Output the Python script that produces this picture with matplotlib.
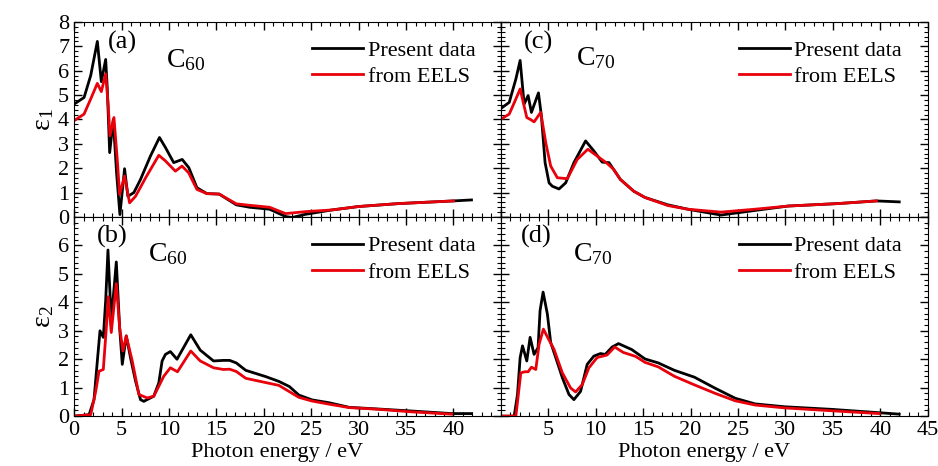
import numpy as np
import matplotlib.pyplot as plt
from matplotlib.ticker import MultipleLocator

plt.rcParams['font.family'] = ['Liberation Serif', 'DejaVu Serif']
plt.rcParams['mathtext.fontset'] = 'stix'

# (a) eps1, C60
a_x_pd = [0, 1.05, 1.75, 2.45, 2.87, 3.33, 3.5, 3.75, 4.13, 4.48, 4.83, 5.32, 5.67, 6.3, 7.0, 8.05, 9.0, 9.63, 10.5, 11.4, 12.1, 12.95, 14.0, 15.3, 17.1, 18.5, 20.6, 22.3, 23.0, 24.4, 27.2, 30, 34.2, 40, 41.9]
a_y_pd = [4.63, 4.9, 5.8, 7.2, 5.55, 6.46, 5.25, 2.64, 4.0, 1.8, 0.1, 1.98, 0.85, 1.0, 1.54, 2.5, 3.26, 2.85, 2.23, 2.36, 2.02, 1.2, 0.96, 0.94, 0.5, 0.4, 0.32, 0.02, -0.02, 0.11, 0.29, 0.43, 0.55, 0.66, 0.7]
a_x_ee = [0, 1.05, 1.75, 2.45, 2.87, 3.33, 3.6, 3.78, 4.2, 4.55, 4.8, 5.32, 5.85, 6.48, 7.53, 8.93, 9.63, 10.68, 11.38, 12.08, 12.95, 14.0, 15.3, 17.1, 18.5, 20.6, 22.3, 24.4, 27.2, 30, 34.2, 40]
a_y_ee = [3.95, 4.22, 4.84, 5.48, 5.14, 5.87, 4.56, 3.33, 4.08, 2.36, 0.92, 1.68, 0.58, 0.85, 1.6, 2.53, 2.3, 1.88, 2.09, 1.81, 1.13, 0.96, 0.94, 0.54, 0.48, 0.4, 0.14, 0.22, 0.29, 0.43, 0.55, 0.66]

# (b) eps2, C60
b_x_pd = [0, 1.58, 2.1, 2.45, 2.73, 3.08, 3.33, 3.57, 3.92, 4.45, 4.8, 5.08, 5.5, 5.95, 6.48, 7.0, 7.35, 8.4, 8.93, 9.28, 9.63, 10.15, 10.85, 12.3, 13.3, 14.7, 15.75, 16.4, 17.1, 18.1, 20.2, 21.6, 22.7, 23.7, 25.1, 26.9, 29, 32.1, 35.6, 39.8, 41.9]
b_y_pd = [0, 0.05, 0.58, 1.94, 3.0, 2.77, 4.07, 5.84, 3.36, 5.42, 3.12, 1.82, 2.82, 2.05, 1.23, 0.58, 0.52, 0.7, 1.17, 1.94, 2.17, 2.27, 2.0, 2.86, 2.32, 1.94, 1.96, 1.96, 1.87, 1.61, 1.39, 1.22, 1.04, 0.74, 0.57, 0.47, 0.31, 0.25, 0.18, 0.09, 0.09]
b_x_ee = [0, 1.75, 2.28, 2.63, 3.08, 3.4, 3.6, 3.92, 4.45, 4.8, 5.15, 5.5, 6.13, 6.83, 7.7, 8.4, 8.93, 9.45, 10.15, 10.9, 12.3, 13.3, 14.7, 15.75, 16.4, 17.1, 18.1, 20.2, 21.6, 23.7, 25.1, 26.9, 29, 32.1, 35.6, 39.8]
b_y_ee = [0, 0.05, 0.87, 1.58, 1.64, 3.12, 4.2, 2.94, 4.66, 3.12, 2.29, 2.82, 1.94, 0.76, 0.64, 0.7, 1.05, 1.4, 1.7, 1.56, 2.29, 1.94, 1.7, 1.64, 1.65, 1.57, 1.33, 1.18, 1.08, 0.66, 0.53, 0.42, 0.3, 0.24, 0.15, 0.07]

# (c) eps1, C70
c_x_pd = [0, 0.88, 1.58, 2.03, 2.45, 2.87, 3.22, 3.96, 4.27, 4.66, 5.08, 5.43, 6.13, 6.83, 7.7, 8.93, 9.8, 10.68, 11.4, 12.6, 14.0, 15.2, 17.6, 19.7, 23.2, 26.8, 30.3, 35.5, 39.6, 42]
c_y_pd = [4.45, 4.7, 5.66, 6.42, 4.63, 4.98, 4.29, 5.09, 4.15, 2.23, 1.4, 1.26, 1.15, 1.4, 2.23, 3.12, 2.71, 2.25, 2.23, 1.54, 1.06, 0.8, 0.5, 0.32, 0.08, 0.27, 0.45, 0.55, 0.66, 0.62]
c_x_ee = [0, 0.88, 1.58, 2.03, 2.73, 3.15, 3.5, 4.2, 4.73, 5.25, 5.95, 7.0, 8.05, 9.17, 10.15, 11.2, 11.9, 12.6, 14.0, 15.2, 17.6, 19.7, 23.2, 26.8, 30.3, 35.5, 39.6]
c_y_ee = [4.01, 4.22, 4.84, 5.25, 4.08, 3.99, 3.9, 4.29, 3.05, 2.09, 1.61, 1.57, 2.36, 2.78, 2.5, 2.2, 1.95, 1.54, 1.06, 0.8, 0.47, 0.32, 0.2, 0.32, 0.45, 0.55, 0.66]

# (d) eps2, C70
d_x_pd = [0, 1.4, 1.75, 2.03, 2.28, 2.73, 3.08, 3.5, 3.92, 4.13, 4.45, 4.9, 5.25, 5.78, 6.48, 7.18, 7.7, 8.4, 9.1, 9.8, 10.5, 11.0, 11.73, 12.4, 13.8, 15.2, 16.6, 18.3, 20.4, 22.6, 24.7, 26.8, 29.9, 34.8, 39.9, 42]
d_y_pd = [0, 0, 0.76, 2.06, 2.47, 1.94, 2.77, 2.17, 2.41, 3.71, 4.36, 3.59, 2.59, 2.06, 1.35, 0.76, 0.58, 0.87, 1.82, 2.11, 2.2, 2.17, 2.43, 2.55, 2.34, 2.01, 1.87, 1.61, 1.37, 0.98, 0.63, 0.43, 0.33, 0.24, 0.12, 0.07]
d_x_ee = [0, 1.58, 2.1, 2.52, 2.87, 3.22, 3.68, 4.03, 4.48, 5.08, 5.6, 6.48, 7.35, 7.88, 8.58, 9.28, 10.15, 11.2, 12.0, 12.9, 14.2, 15.2, 16.6, 18.3, 20.4, 22.6, 24.7, 26.8, 29.9, 34.8, 39.9]
d_y_ee = [0, 0, 1.52, 1.56, 1.56, 1.72, 1.64, 2.53, 3.06, 2.67, 2.35, 1.52, 0.99, 0.85, 1.11, 1.7, 2.06, 2.15, 2.43, 2.24, 2.1, 1.89, 1.73, 1.4, 1.1, 0.8, 0.54, 0.39, 0.29, 0.19, 0.09]

fig, axes = plt.subplots(2, 2, figsize=(9.38, 4.66), dpi=100,
                         gridspec_kw={'height_ratios': [194, 198]})
fig.subplots_adjust(left=0.079, right=0.989, top=0.953, bottom=0.107, wspace=0, hspace=0)

# axes, curves, tag, subscript, tag position, formula position
panels = [
    (axes[0, 0], a_x_pd, a_y_pd, a_x_ee, a_y_ee, '(a)', '60', (0.08, 0.895), (0.215, 0.80)),
    (axes[1, 0], b_x_pd, b_y_pd, b_x_ee, b_y_ee, '(b)', '60', (0.054, 0.90), (0.172, 0.81)),
    (axes[0, 1], c_x_pd, c_y_pd, c_x_ee, c_y_ee, '(c)', '70', (0.054, 0.895), (0.175, 0.81)),
    (axes[1, 1], d_x_pd, d_y_pd, d_x_ee, d_y_ee, '(d)', '70', (0.047, 0.90), (0.17, 0.81)),
]

fs = 16
for ax, xp, yp, xe, ye, tag, n, tpos, cpos in panels:
    ax.plot(xp, yp, color='black', lw=2, label='Present data')
    ax.plot(xe, ye, color='#e8000b', lw=2, label='from EELS')
    ax.set_xlim(0, 45)
    ax.xaxis.set_major_locator(MultipleLocator(5))
    ax.xaxis.set_minor_locator(MultipleLocator(1))
    ax.yaxis.set_major_locator(MultipleLocator(1))
    ax.yaxis.set_minor_locator(MultipleLocator(0.2))
    ax.tick_params(which='both', direction='in', top=True, right=True, labelsize=fs)
    ax.tick_params(which='major', length=6, width=1)
    ax.tick_params(which='minor', length=3, width=0.8)
    ax.text(*tpos, tag, transform=ax.transAxes, fontsize=fs + 3, va='center')
    ax.text(*cpos, 'C$_{\\mathregular{' + n + '}}$', transform=ax.transAxes,
            fontsize=fs + 4, va='center')
    ax.legend(loc='upper right', bbox_to_anchor=(0.94, 0.905), frameon=False, fontsize=fs,
              handlelength=2.3, handletextpad=0.2, labelspacing=0.25, borderpad=0, borderaxespad=0)

for ax in axes[0]:
    ax.set_ylim(0, 8)
    ax.set_xticklabels([])
for ax in axes[1]:
    ax.set_ylim(0, 7)
    ax.set_xlabel('Photon energy / eV', fontsize=fs)
    ax.xaxis.set_label_coords(0.476, -0.135)
for ax in axes[:, 1]:
    ax.set_yticklabels([])

axes[1, 0].set_xticks([0, 5, 10, 15, 20, 25, 30, 35, 40])
axes[1, 1].set_xticks([5, 10, 15, 20, 25, 30, 35, 40, 45])
axes[1, 0].set_yticks([0, 1, 2, 3, 4, 5, 6])
axes[0, 0].set_ylabel('ε$_{\\mathregular{1}}$', fontsize=fs + 4, labelpad=1)
axes[1, 0].set_ylabel('ε$_{\\mathregular{2}}$', fontsize=fs + 4, labelpad=1)

fig.savefig('out.png', dpi=100)
